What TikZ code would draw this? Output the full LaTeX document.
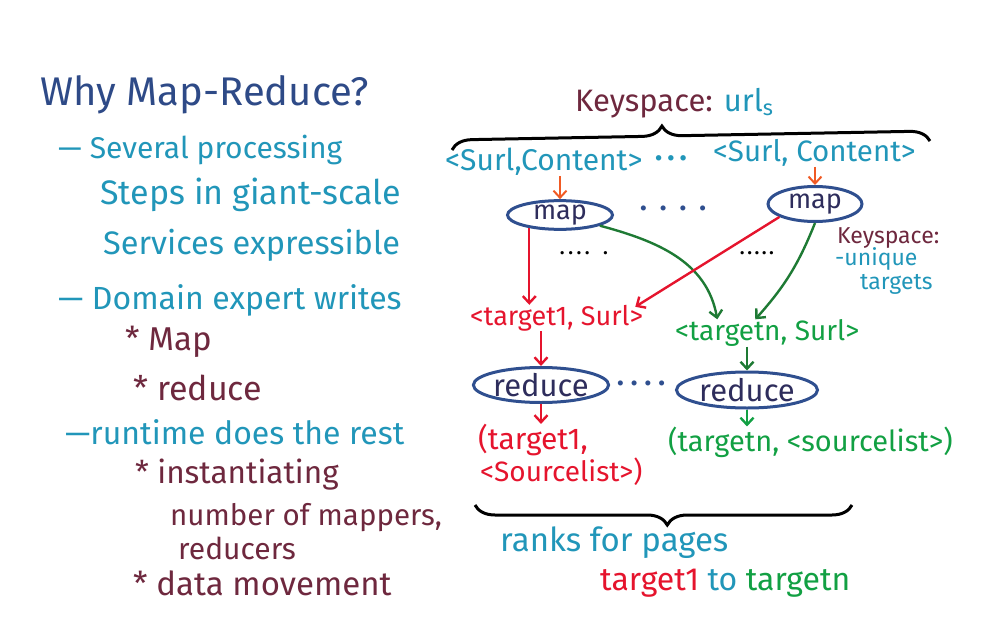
\documentclass[tikz,border=0pt]{standalone}
\usepackage{fontspec}
\setmainfont{Fira Sans}
\usetikzlibrary{shapes.geometric,arrows.meta,decorations.pathreplacing}
\definecolor{titleblue}{HTML}{2E4A87}
\definecolor{tealc}{HTML}{2196B9}
\definecolor{maroon}{HTML}{6E283E}
\definecolor{redc}{HTML}{E5142D}
\definecolor{greenc}{HTML}{12A043}
\definecolor{dgreen}{HTML}{1E7A34}
\definecolor{orangec}{HTML}{F05A24}
\definecolor{ellblue}{HTML}{2F4F8F}
\definecolor{elltext}{HTML}{2E2D5C}
\newcommand{\fsz}[1]{\fontsize{#1}{#1}\selectfont}
\tikzset{
  lt/.style={anchor=west,inner sep=0pt},
  proc/.style={ellipse,draw=ellblue,line width=3pt,text=elltext,inner sep=0pt},
  arr/.style={line width=2.4pt,-{Straight Barb[length=7pt,width=13pt]}},
  brc/.style={line width=3pt,decorate,decoration={brace,amplitude=20pt}}
}
\begin{document}
\begin{tikzpicture}[x=1pt,y=-1pt]
\useasboundingbox (0,0) rectangle (982,642);
% left column
\node[lt,text=titleblue,font=\fsz{40}] (title) at (40,95) {Why Map-Reduce?};
\node[lt,text=tealc,font=\fsz{30}] (l1) at (58,150) {— Several processing};
\node[lt,text=tealc,font=\fsz{34}] (l2) at (100,195) {Steps in giant-scale};
\node[lt,text=tealc,font=\fsz{32.5}] (l3) at (103,245) {Services expressible};
\node[lt,text=tealc,font=\fsz{32}] (l4) at (58,300) {— Domain expert writes};
\node[lt,text=maroon,font=\fsz{33}] (l5) at (125,342) {* Map};
\node[lt,text=maroon,font=\fsz{34}] (l6) at (133,388) {* reduce};
\node[lt,text=tealc,font=\fsz{32}] (l7) at (65,432) {—runtime does the rest};
\node[lt,text=maroon,font=\fsz{31.5}] (l8) at (135,475) {* instantiating};
\node[lt,text=maroon,font=\fsz{29.5}] (l9) at (170,518) {number of mappers,};
\node[lt,text=maroon,font=\fsz{30}] (l10) at (178,548) {reducers};
\node[lt,text=maroon,font=\fsz{33}] (l11) at (133,583) {* data movement};
% right top
\node[lt,font=\fsz{31}] (ks) at (575,103) {\textcolor{maroon}{Keyspace:} \textcolor{tealc}{url\textsubscript{s}}};
\coordinate (b1) at (452,150);
\coordinate (b2) at (930,141);
\draw[brc,decoration={aspect=0.44}] (b1) -- (b2);
\node[lt,text=tealc,font=\fsz{30}] (c1) at (445,162) {<Surl,Content>};
\node[lt,text=tealc,font=\fsz{30}\bfseries] (cdots) at (655,158) {.\hspace{5pt}.\hspace{5pt}.};
\node[lt,text=tealc,font=\fsz{29.5}] (c2) at (713,153) {<Surl, Content>};
\node[proc,minimum width=105pt,minimum height=28pt,font=\fsz{27}] (map1) at (560,215) {map};
\node[proc,minimum width=94pt,minimum height=35pt,font=\fsz{27}] (map2) at (815,204) {map};
\node[lt,text=ellblue,font=\fsz{28}\bfseries] (mdots) at (640,208) {.\hspace{13pt}.\hspace{13pt}.\hspace{13pt}.};
\node[lt,text=maroon,font=\fsz{23}] (ks2) at (837,238) {Keyspace:};
\node[lt,text=tealc,font=\fsz{23}] (uq) at (835,259) {-unique};
\node[lt,text=tealc,font=\fsz{23}] (tg) at (860,284) {targets};
\node[lt,font=\fsz{18}\bfseries] (kd1) at (560,253) {.\hspace{4pt}.\hspace{4pt}.\hspace{4pt}.\hspace{14pt}.};
\node[lt,font=\fsz{18}\bfseries] (kd2) at (740,253) {.\hspace{3pt}.\hspace{3pt}.\hspace{3pt}.\hspace{3pt}.};
\node[lt,text=redc,font=\fsz{27}] (t1) at (470,318) {<target1, Surl>};
\node[lt,text=greenc,font=\fsz{28}] (tn) at (675,333) {<targetn, Surl>};
\node[proc,minimum width=132pt,minimum height=35pt,font=\fsz{31}] (r1) at (541,385) {reduce};
\node[proc,minimum width=141pt,minimum height=36pt,font=\fsz{31}] (r2) at (747,390) {reduce};
\node[lt,text=ellblue,font=\fsz{28}\bfseries] (rdots) at (617,383) {.\hspace{7pt}.\hspace{7pt}.\hspace{7pt}.};
\node[lt,text=redc,font=\fsz{30}] (o1a) at (478,440) {(target1,};
\node[lt,text=redc,font=\fsz{28}] (o1b) at (480,472) {<Sourcelist>)};
\node[lt,text=greenc,font=\fsz{29}] (o2) at (668,442) {(targetn, <sourcelist>)};
\coordinate (b3) at (852,505);
\coordinate (b4) at (475,505);
\draw[brc,decoration={aspect=0.49}] (b3) -- (b4);
\node[lt,text=tealc,font=\fsz{33}] (rk) at (500,543) {ranks for pages};
\node[lt,font=\fsz{32}] (tt) at (600,583) {\textcolor{redc}{target1} \textcolor{tealc}{to} \textcolor{greenc}{targetn}};
% connectors
\draw[arr,orangec,line width=2pt] (map1.north |- c1.south) -- (map1.north);
\draw[arr,orangec,line width=2pt] (map2.north |- c2.south) -- (map2.north);
\draw[arr,redc] (map1.203) -- (map1.203 |- t1.north);
\draw[arr,dgreen] (map1.345) to[out=-15,in=100] ([xshift=-50pt]tn.north);
\draw[arr,redc] (map2.200) -- ([xshift=-8pt,yshift=-2pt]t1.north east);
\draw[arr,dgreen] (map2.south) to[bend left=10] ([xshift=-12pt]tn.north);
\draw[arr,redc] (r1.north |- t1.south) -- (r1.north);
\draw[arr,dgreen] (r2.north |- tn.south) -- (r2.north);
\draw[arr,redc] (r1.south) -- (r1.south |- o1a.north);
\draw[arr,greenc] (r2.south) -- (r2.south |- o2.north);
\end{tikzpicture}
\end{document}
